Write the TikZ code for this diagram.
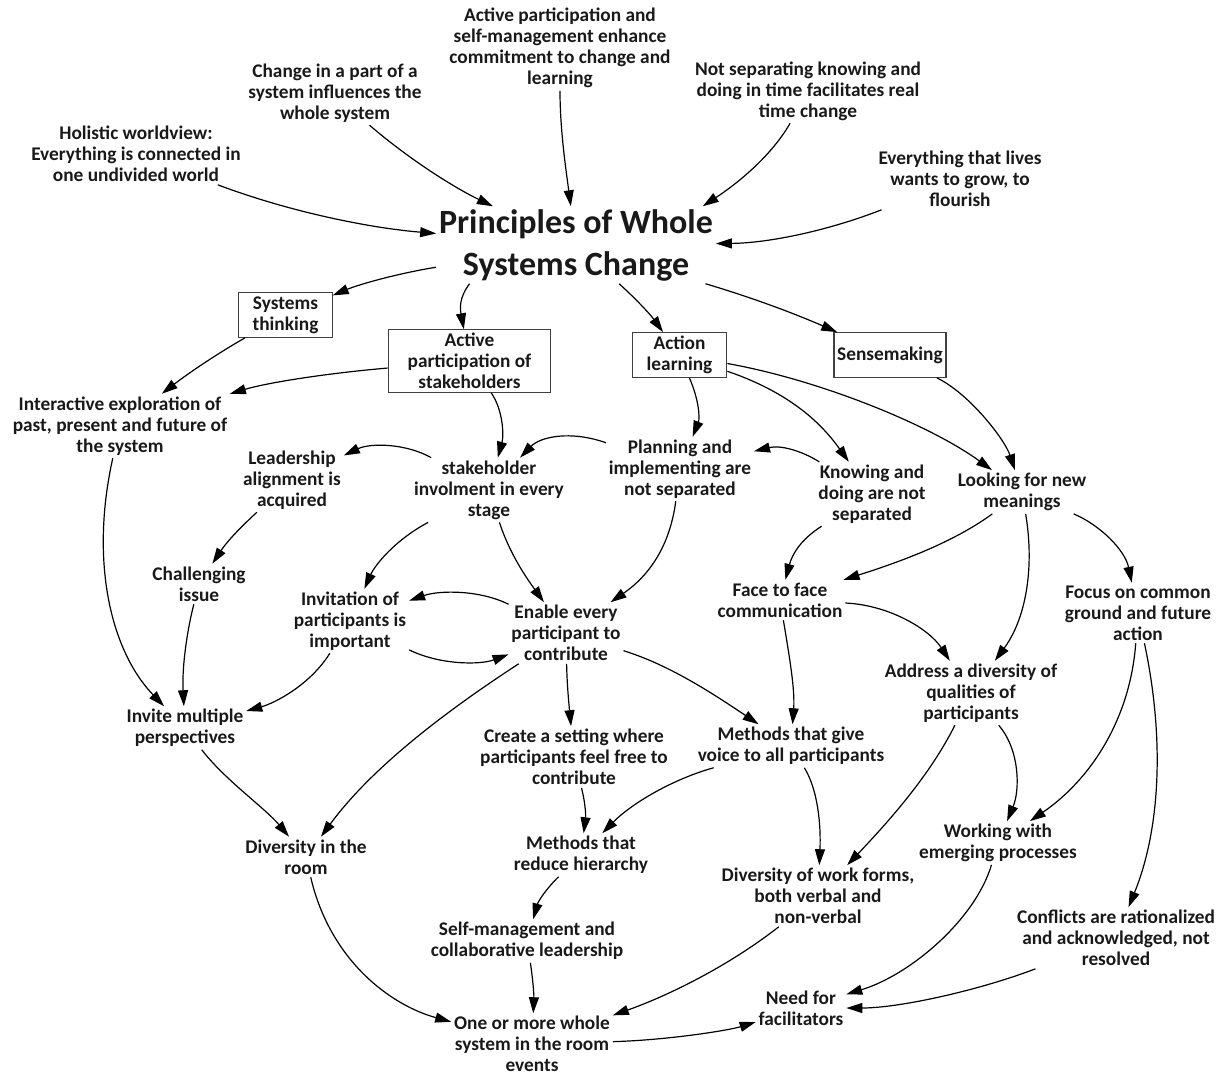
\documentclass[tikz,border=0pt]{standalone}
\usepackage{fontspec}
\setmainfont{Carlito}
\usetikzlibrary{arrows.meta}

\begin{document}
\begin{tikzpicture}[x=0.75pt,y=0.75pt,yscale=-1,xscale=1,
  txt/.style={align=center,inner sep=2pt,text=black!90,font=\fontsize{14.5}{15.75}\selectfont\bfseries},
  boxnode/.style={txt,draw=black!75,line width=0.8pt,inner xsep=1pt,inner ysep=2.5pt,minimum height=33.5pt},
  arr/.style={line width=0.9pt,-{Triangle[length=12pt,width=7.5pt]}}]
%set diagram size
\path[use as bounding box] (0,0) rectangle (1218,1076);

%Title
\node[txt,font=\fontsize{25.5}{31.5}\selectfont\bfseries] (title) at (576,245) {Principles of Whole\\Systems Change};

%Text Node: top principles
\node[txt] (holistic) at (136,154) {Holistic worldview:\\Everything is connected in\\one undivided world};
\node[txt] (partwhole) at (335,93) {Change in a part of a\\system influences the\\whole system};
\node[txt] (selfmgmtcommit) at (560,48) {Active participation and\\self-management enhance\\commitment to change and\\learning};
\node[txt] (notseparating) at (808,91) {Not separating knowing and\\doing in time facilitates real\\time change};
\node[txt] (lives) at (960,179) {Everything that lives\\wants to grow, to\\flourish};

%Shape: Rectangle boxes
\node[boxnode,minimum width=70pt] (systhink) at (285.5,315) {Systems\\thinking};
\node[boxnode,minimum width=122pt] (actpart) at (469.5,361) {Active\\participation of\\stakeholders};
\node[boxnode,minimum width=71pt] (actlearn) at (679.5,355) {Action\\learning};
\node[boxnode,minimum width=84pt] (sensemaking) at (890,355) {Sensemaking};

%Text Node: middle
\node[txt] (interactive) at (120,426) {Interactive exploration of\\past, present and future of\\the system};
\node[txt] (leadership) at (292,480) {Leadership\\alignment is\\acquired};
\node[txt] (stakeinv) at (489,490) {stakeholder\\involment in every\\stage};
\node[txt] (planning) at (680,469) {Planning and\\implementing are\\not separated};
\node[txt] (knowing) at (872,494) {Knowing and\\doing are not\\separated};
\node[txt] (looking) at (1022,492) {Looking for new\\meanings};
\node[txt] (challenging) at (199,584) {Challenging\\issue};
\node[txt] (invitation) at (350,621) {Invitation of\\participants is\\important};
\node[txt] (enable) at (566,633) {Enable every\\participant to\\contribute};
\node[txt] (face) at (780,600) {Face to face\\communication};
\node[txt] (focus) at (1138,613) {Focus on common\\ground and future\\action};
\node[txt] (address) at (971,693) {Address a diversity of\\qualities of\\participants};
\node[txt] (invite) at (185,728) {Invite multiple\\perspectives};
\node[txt] (setting) at (574,757) {Create a setting where\\participants feel free to\\contribute};
\node[txt] (givevoice) at (791,746) {Methods that give\\voice to all participants};

%Text Node: bottom
\node[txt] (working) at (998,843) {Working with\\emerging processes};
\node[txt] (divroom) at (306,857) {Diversity in the\\room};
\node[txt] (hierarchy) at (581,855) {Methods that\\reduce hierarchy};
\node[txt] (workforms) at (818,896) {Diversity of work forms,\\both verbal and\\non-verbal};
\node[txt] (conflicts) at (1116,938) {Conflicts are rationalized\\and acknowledged, not\\resolved};
\node[txt] (collab) at (527,941) {Self-management and\\collaborative leadership};
\node[txt] (facilitators) at (801,1008) {Need for\\facilitators};
\node[txt] (events) at (532,1044) {One or more whole\\system in the room\\events};

%Curve Lines: into title
\draw[arr] (holistic) .. controls (290,212) and (370,228) .. (title);
\draw[arr] (partwhole.-43) .. controls (410,160) and (455,188) .. (title.155);
\draw[arr] (selfmgmtcommit) .. controls (560,130) and (566,170) .. (title);
\draw[arr] (notseparating.-119) .. controls (770,158) and (735,185) .. (title.17);
\draw[arr] (lives) .. controls (830,230) and (770,243) .. (title);

%Curve Lines: out of title
\draw[arr] (title) .. controls (400,273) and (360,284) .. (systhink);
\draw[arr] (title.-160) .. controls (459,298) and (460,308) .. (actpart);
\draw[arr] (title) .. controls (635,298) and (650,314) .. (actlearn);
\draw[arr] (title) .. controls (760,300) and (800,316) .. (sensemaking);

%Curve Lines: from boxes
\draw[arr] (systhink) .. controls (220,352) and (190,372) .. (interactive);
\draw[arr] (actpart) .. controls (330,373) and (270,382) .. (interactive);
\draw[arr] (actpart) .. controls (503,410) and (504,435) .. (stakeinv);
\draw[arr] (actlearn) .. controls (699,400) and (700,418) .. (planning);
\draw[arr] (actlearn) .. controls (797,395) and (826,430) .. (knowing);
\draw[arr] (actlearn) .. controls (820,380) and (930,425) .. (looking);
\draw[arr] (sensemaking) .. controls (970,394) and (1005,440) .. (looking);

%Curve Lines: middle
\draw[arr] (stakeinv) .. controls (405,443) and (370,443) .. (leadership);
\draw[arr] (planning) .. controls (570,430) and (540,437) .. (stakeinv);
\draw[arr] (knowing) .. controls (800,450) and (780,445) .. (planning);
\draw[arr] (leadership) .. controls (243,525) and (228,540) .. (challenging);
\draw[arr] (stakeinv) .. controls (395,540) and (375,565) .. (invitation);
\draw[arr] (stakeinv) .. controls (510,555) and (528,580) .. (enable);
\draw[arr] (planning) .. controls (670,545) and (650,575) .. (enable);
\draw[arr] (knowing) .. controls (800,540) and (792,555) .. (face);
\draw[arr] (looking) .. controls (950,545) and (890,565) .. (face);
\draw[arr] (looking) .. controls (1035,570) and (1025,620) .. (address);
\draw[arr] (looking) .. controls (1100,525) and (1125,550) .. (focus);
\draw[arr] (interactive) .. controls (90,560) and (110,650) .. (invite);
\draw[arr] (challenging) .. controls (186,635) and (182,670) .. (invite);
\draw[arr] (invitation) .. controls (310,685) and (275,703) .. (invite);
\draw[arr] (enable) .. controls (480,590) and (440,590) .. (invitation);
\draw[arr] (invitation) .. controls (440,665) and (480,665) .. (enable);
\draw[arr] (enable) .. controls (440,715) and (370,770) .. (divroom);
\draw[arr] (enable) .. controls (567,685) and (569,705) .. (setting);
\draw[arr] (enable) .. controls (670,665) and (715,695) .. (givevoice);
\draw[arr] (face) .. controls (889,605) and (929,629) .. (address);
\draw[arr] (face) .. controls (790,660) and (795,690) .. (givevoice);

%Curve Lines: lower part
\draw[arr] (address) .. controls (1020,750) and (1020,790) .. (working);
\draw[arr] (address) .. controls (930,775) and (890,820) .. (workforms);
\draw[arr] (focus) .. controls (1130,720) and (1090,780) .. (working);
\draw[arr] (focus) .. controls (1165,740) and (1160,830) .. (conflicts);
\draw[arr] (givevoice) .. controls (818,790) and (821,825) .. (workforms);
\draw[arr] (givevoice) .. controls (670,780) and (630,805) .. (hierarchy);
\draw[arr] (setting) .. controls (585,802) and (586,814) .. (hierarchy);
\draw[arr] (hierarchy) .. controls (545,890) and (538,902) .. (collab);
\draw[arr] (invite) .. controls (225,780) and (265,808) .. (divroom);
\draw[arr] (collab) .. controls (533,980) and (534,995) .. (events);
\draw[arr] (divroom) .. controls (330,960) and (390,1005) .. (events);
\draw[arr] (workforms) .. controls (730,965) and (670,995) .. (events);
\draw[arr] (events) .. controls (670,1040) and (730,1030) .. (facilitators);
\draw[arr] (working) .. controls (975,920) and (910,975) .. (facilitators);
\draw[arr] (conflicts) .. controls (980,990) and (900,1008) .. (facilitators);
\end{tikzpicture}
\end{document}
